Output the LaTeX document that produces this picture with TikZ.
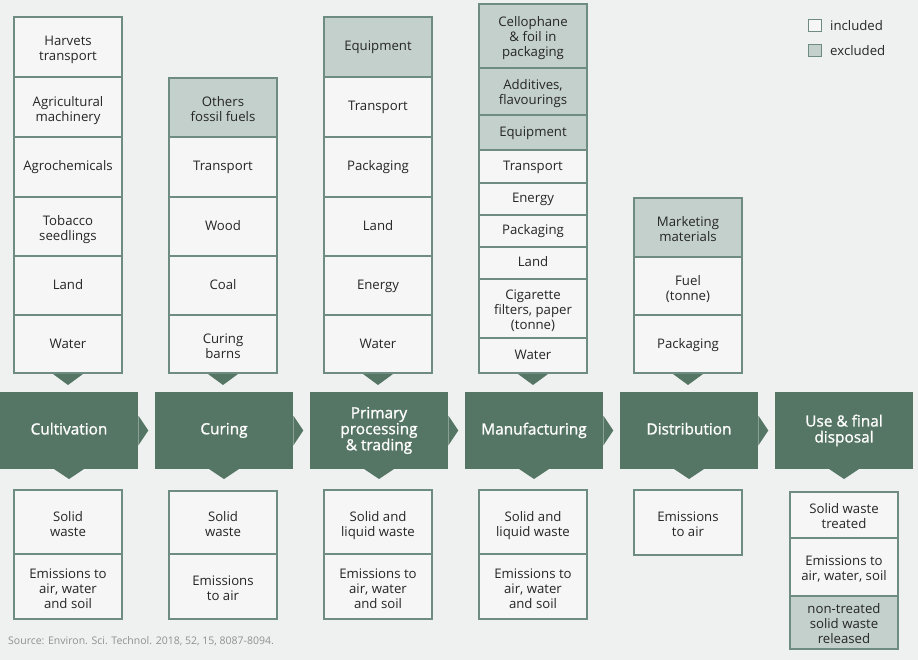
\documentclass[tikz,border=0pt]{standalone}
\usepackage{fontspec}
\setmainfont{Open Sans}
\newfontfamily\stagefont[FakeBold=1.2]{Open Sans}
\definecolor{bgc}{HTML}{EFF1F0}
\definecolor{cellc}{HTML}{F5F6F5}
\definecolor{exclc}{HTML}{C4D0CB}
\definecolor{bordc}{HTML}{6F8C82}
\definecolor{stagec}{HTML}{557565}
\definecolor{txtc}{HTML}{262626}
\definecolor{srcc}{HTML}{8E928F}
\tikzset{
  cellin/.style={draw=bordc, fill=cellc, line width=1.1pt, minimum width=108pt, inner sep=0pt, outer sep=0pt},
  cellex/.style={cellin, fill=exclc},
  celltxt/.style={inner sep=0pt, outer sep=0pt, align=center, text=txtc, font=\fontsize{13.2}{15}\selectfont, execute at begin node=\strut, execute at end node=\strut},
  stagebox/.style={fill=stagec, minimum width=138pt, minimum height=77pt, inner sep=0pt, outer sep=0pt, align=center, text=white, font=\stagefont\fontsize{15.4}{16}\selectfont, execute at begin node=\strut, execute at end node=\strut, text depth=3.8pt},
  tri/.style={fill=stagec},
  legbox/.style={draw=bordc, line width=1.1pt, minimum width=13pt, minimum height=12pt, inner sep=0pt, outer sep=0pt},
  legtxt/.style={anchor=west, inner sep=0pt, text=txtc, font=\fontsize{13.2}{15}\selectfont}
}
% \cellbox[shift down]{name}{x}{ytop}{ybottom}{style}{text}
\newcommand\cellbox[7][1]{%
  \node[#6, minimum height={(#5-#4)*1pt}, anchor=north] (#2) at (#3,#4) {};
  \node[celltxt] (#2-t) at ([yshift=-#1pt]#2.center) {#7};}
\begin{document}
\begin{tikzpicture}[x=1pt,y=-1pt]
\fill[bgc] (0,0) rectangle (918,660);
\useasboundingbox (0,0) rectangle (918,660);

% ---- top columns ----
% col 1
\cellbox[4]{a1}{68}{17}{77}{cellin}{Harvets\\transport}
\cellbox[4]{a2}{68}{77}{137}{cellin}{Agricultural\\machinery}
\cellbox{a3}{68}{137}{197}{cellin}{Agrochemicals}
\cellbox[4]{a4}{68}{197}{256}{cellin}{Tobacco\\seedlings}
\cellbox{a5}{68}{256}{315}{cellin}{Land}
\cellbox{a6}{68}{315}{373}{cellin}{Water}
% col 2
\cellbox[4]{b1}{223}{78}{137}{cellex}{Others\\fossil fuels}
\cellbox{b2}{223}{137}{197}{cellin}{Transport}
\cellbox{b3}{223}{197}{256}{cellin}{Wood}
\cellbox{b4}{223}{256}{315}{cellin}{Coal}
\cellbox[4]{b5}{223}{315}{373}{cellin}{Curing\\barns}
% col 3
\cellbox{c1}{378}{17}{77}{cellex}{Equipment}
\cellbox{c2}{378}{77}{137}{cellin}{Transport}
\cellbox{c3}{378}{137}{197}{cellin}{Packaging}
\cellbox{c4}{378}{197}{256}{cellin}{Land}
\cellbox{c5}{378}{256}{315}{cellin}{Energy}
\cellbox{c6}{378}{315}{373}{cellin}{Water}
% col 4
\cellbox[3]{d1}{533}{4}{68}{cellex}{Cellophane\\\& foil in\\packaging}
\cellbox[3]{d2}{533}{68}{115}{cellex}{Additives,\\flavourings}
\cellbox{d3}{533}{115}{150}{cellex}{Equipment}
\cellbox{d4}{533}{150}{183}{cellin}{Transport}
\cellbox{d5}{533}{183}{215}{cellin}{Energy}
\cellbox{d6}{533}{215}{247}{cellin}{Packaging}
\cellbox{d7}{533}{247}{279}{cellin}{Land}
\cellbox[3]{d8}{533}{279}{338}{cellin}{Cigarette\\filters, paper\\(tonne)}
\cellbox{d9}{533}{338}{373}{cellin}{Water}
% col 5
\cellbox[4]{e1}{688}{198}{257}{cellex}{Marketing\\materials}
\cellbox[4]{e2}{688}{257}{315}{cellin}{Fuel\\(tonne)}
\cellbox{e3}{688}{315}{373}{cellin}{Packaging}

% ---- stages ----
\node[stagebox, anchor=north west] (s1) at (0,392) {Cultivation};
\node[stagebox, anchor=north west] (s2) at (155,392) {Curing};
\node[stagebox, anchor=north west] (s3) at (310,392) {Primary\\processing\\\& trading};
\node[stagebox, anchor=north west] (s4) at (465,392) {Manufacturing};
\node[stagebox, anchor=north west] (s5) at (620,392) {Distribution};
\node[stagebox, anchor=north west] (s6) at (775,392) {Use \& final\\disposal};

% right arrows between stages
\foreach \s in {s1,s2,s3,s4,s5}{
  \fill[tri] (\s.east) ++(0.3,-15) -- ++(10,15) -- ++(-10,15) -- cycle;
}
% down triangles above stages
\foreach \c in {a6,b5,c6,d9,e3}{
  \fill[tri] (\c.south) ++(-15,1) -- ++(30,0) -- ++(-15,11) -- cycle;
}
% down triangles below stages
\foreach \s in {s1,s2,s3,s4,s5,s6}{
  \fill[tri] (\s.south) ++(-15,0) -- ++(30,0) -- ++(-15,10) -- cycle;
}

% ---- bottom columns ----
\cellbox[4]{f1}{68}{490}{554}{cellin}{Solid\\waste}
\cellbox[4]{f2}{68}{554}{619}{cellin}{Emissions to\\air, water\\and soil}
\cellbox[4]{g1}{223}{491}{554}{cellin}{Solid\\waste}
\cellbox[4]{g2}{223}{554}{619}{cellin}{Emissions\\to air}
\cellbox[4]{h1}{378}{490}{554}{cellin}{Solid and\\liquid waste}
\cellbox[4]{h2}{378}{554}{619}{cellin}{Emissions to\\air, water\\and soil}
\cellbox[4]{i1}{533}{490}{554}{cellin}{Solid and\\liquid waste}
\cellbox[4]{i2}{533}{554}{619}{cellin}{Emissions to\\air, water\\and soil}
\cellbox[4]{j1}{688}{490}{555}{cellin}{Emissions\\to air}
\cellbox[3]{k1}{844}{492}{538}{cellin}{Solid waste\\treated}
\cellbox[3]{k2}{844}{538}{596}{cellin}{Emissions to\\air, water, soil}
\cellbox[3]{k3}{844}{596}{649}{cellex}{non-treated\\solid waste\\released}

% ---- legend ----
\node[legbox, fill=cellc] (li) at (815,25.5) {};
\node[legtxt] (lit) at (830,25.5) {included};
\node[legbox, fill=exclc] (le) at (815,50.5) {};
\node[legtxt] (let) at (830,50.5) {excluded};

% ---- source ----
\node[anchor=west, inner sep=0pt, text=srcc, font=\fontsize{10.5}{12}\selectfont] (src) at (8,641) {Source: Environ. Sci. Technol. 2018, 52, 15, 8087-8094.};
\end{tikzpicture}
\end{document}
